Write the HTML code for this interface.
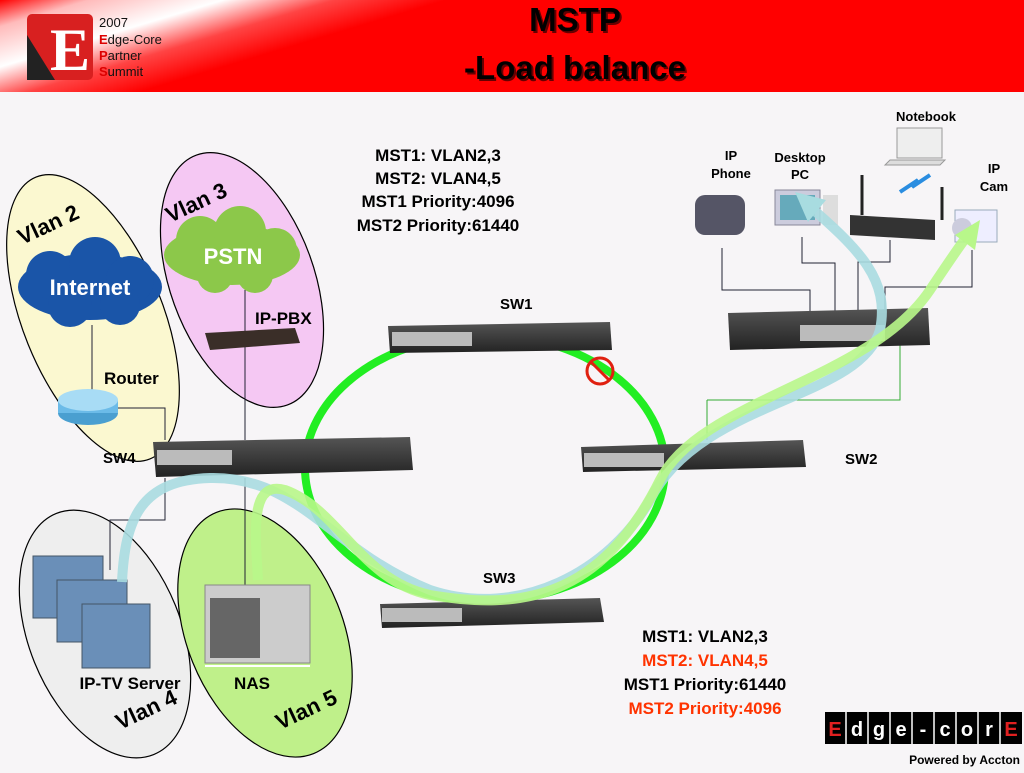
<!DOCTYPE html>
<html><head><meta charset="utf-8"><style>
body{margin:0;width:1024px;height:768px;overflow:hidden;background:#f7f5f7;font-family:"Liberation Sans",sans-serif}
</style></head><body>
<svg width="1024" height="768" viewBox="0 0 1024 768" xmlns="http://www.w3.org/2000/svg" font-family="Liberation Sans, sans-serif">
<defs>
<linearGradient id="hd" x1="0" x2="1" y1="0" y2="0.3">
<stop offset="0" stop-color="#f00"/><stop offset="0.08" stop-color="#fbb"/><stop offset="0.2" stop-color="#fff"/><stop offset="0.3" stop-color="#f44"/><stop offset="0.4" stop-color="#f00"/><stop offset="1" stop-color="#f00"/>
</linearGradient>
<linearGradient id="sw" x1="0" x2="0" y1="0" y2="1"><stop offset="0" stop-color="#555"/><stop offset="1" stop-color="#222"/></linearGradient>
</defs>
<rect width="1024" height="768" fill="#f7f5f7"/>
<rect width="1024" height="92" fill="url(#hd)"/>
<rect x="27" y="14" width="66" height="66" rx="5" fill="#d82020"/>
<path d="M27 35 L55 80 L27 80Z" fill="#222"/>
<text x="50" y="70" font-family="Liberation Serif" font-size="60" font-weight="bold" fill="#fff">E</text>
<g font-size="13" fill="#111"><text x="99" y="27">2007</text><text x="99" y="44"><tspan fill="#d00" font-weight="bold">E</tspan>dge-Core</text><text x="99" y="60"><tspan fill="#d00" font-weight="bold">P</tspan>artner</text><text x="99" y="76"><tspan fill="#d00" font-weight="bold">S</tspan>ummit</text></g>
<g font-size="33" font-weight="bold" text-anchor="middle"><text x="577" y="33" fill="#600">MSTP</text><text x="575" y="31" fill="#000">MSTP</text><text x="577" y="81" fill="#600">-Load balance</text><text x="575" y="79" fill="#000">-Load balance</text></g>

<g stroke="#000" stroke-width="1.2">
<ellipse cx="93" cy="318" rx="70" ry="152" transform="rotate(-22 93 318)" fill="#fbf8d0"/>
<ellipse cx="242" cy="280" rx="72" ry="133" transform="rotate(-20 242 280)" fill="#f5c8f3"/>
<ellipse cx="105" cy="634" rx="76" ry="130" transform="rotate(-22 105 634)" fill="#eeeeee"/>
<ellipse cx="265" cy="633" rx="78" ry="130" transform="rotate(-22 265 633)" fill="#bff08a"/>
</g>
<g font-size="22" font-weight="bold" fill="#000">
<text transform="translate(22 245) rotate(-25)">Vlan 2</text>
<text transform="translate(170 223) rotate(-25)">Vlan 3</text>
<text transform="translate(120 730) rotate(-25)">Vlan 4</text>
<text transform="translate(280 730) rotate(-25)">Vlan 5</text>
</g>
<!-- clouds -->
<g fill="#1a55a8"><ellipse cx="90" cy="287" rx="72" ry="33"/><circle cx="50" cy="275" r="24"/><circle cx="95" cy="263" r="26"/><circle cx="130" cy="280" r="24"/><circle cx="70" cy="305" r="22"/><circle cx="120" cy="305" r="20"/></g>
<text x="90" y="295" font-size="22" font-weight="bold" fill="#fff" text-anchor="middle">Internet</text>
<g fill="#8cc84a"><ellipse cx="232" cy="255" rx="68" ry="30"/><circle cx="200" cy="240" r="24"/><circle cx="240" cy="232" r="26"/><circle cx="275" cy="250" r="22"/><circle cx="215" cy="275" r="18"/><circle cx="255" cy="275" r="18"/></g>
<text x="233" y="264" font-size="22" font-weight="bold" fill="#fff" text-anchor="middle">PSTN</text>

<!-- lines -->
<g stroke="#223" stroke-width="1" fill="none">
<path d="M92 325 V400"/><path d="M110 408 H165 V440"/><path d="M245 290 V440"/><path d="M245 478 V590"/>
<path d="M165 478 V520 H110 V570"/>
<path d="M722 248 V290 H810 V330"/><path d="M802 237 V263 H835 V330"/><path d="M890 240 V262 H858 V330"/><path d="M972 250 V287 H885 V330"/>
<path d="M707 400 H900 V345" stroke="#3a3"/><path d="M707 400 V440" stroke="#3a3"/>
</g>
<!-- ring -->
<ellipse cx="485" cy="468" rx="180" ry="133" fill="none" stroke="#22ee22" stroke-width="8"/>

<!-- router -->
<ellipse cx="88" cy="413" rx="30" ry="12" fill="#4a9fd0"/><rect x="58" y="400" width="60" height="13" fill="#6bbbe8"/><ellipse cx="88" cy="400" rx="30" ry="11" fill="#a8dcf5"/>
<text x="104" y="384" font-size="17" font-weight="bold">Router</text>
<!-- pbx -->
<path d="M205 333 L295 328 L300 343 L210 350Z" fill="#3a2e28"/>
<text x="255" y="324" font-size="17" font-weight="bold">IP-PBX</text>

<!-- switches -->
<g>
<path d="M388 326 L610 322 L612 350 L390 353Z" fill="url(#sw)"/><rect x="392" y="332" width="80" height="14" fill="#bbb"/>
<path d="M153 442 L410 437 L413 470 L156 477Z" fill="url(#sw)"/><rect x="157" y="450" width="75" height="15" fill="#bbb"/>
<path d="M581 447 L803 440 L806 467 L583 472Z" fill="url(#sw)"/><rect x="584" y="453" width="80" height="14" fill="#bbb"/>
<path d="M380 604 L600 598 L604 622 L382 628Z" fill="url(#sw)"/><rect x="382" y="608" width="80" height="14" fill="#bbb"/>
<path d="M728 313 L928 308 L930 345 L730 350Z" fill="url(#sw)"/><rect x="800" y="325" width="85" height="16" fill="#bbb"/>
</g>
<g font-size="15" font-weight="bold">
<text x="500" y="309">SW1</text><text x="103" y="463">SW4</text><text x="845" y="464">SW2</text><text x="483" y="583">SW3</text>
</g>
<circle cx="600" cy="371" r="13" fill="none" stroke="#e02010" stroke-width="3"/><line x1="591" y1="362" x2="609" y2="380" stroke="#e02010" stroke-width="3"/>

<!-- servers -->
<g fill="#6a8fb8" stroke="#456" stroke-width="1">
<rect x="33" y="556" width="70" height="62"/><rect x="57" y="580" width="70" height="62"/><rect x="82" y="604" width="68" height="64"/>
</g>
<!-- NAS -->
<rect x="205" y="585" width="105" height="78" fill="#ccc" stroke="#888"/><rect x="210" y="598" width="50" height="60" fill="#666"/>
<line x1="205" y1="666" x2="310" y2="666" stroke="#fff" stroke-width="2"/>

<!-- devices right -->
<rect x="695" y="195" width="50" height="40" rx="10" fill="#556"/>
<rect x="775" y="190" width="45" height="35" fill="#ccd" stroke="#889"/><rect x="780" y="195" width="35" height="25" fill="#6ab"/><rect x="823" y="195" width="15" height="30" fill="#ddd"/>
<path d="M850 215 L935 220 L935 240 L850 235Z" fill="#333"/><line x1="862" y1="215" x2="862" y2="175" stroke="#222" stroke-width="3"/><line x1="942" y1="220" x2="942" y2="187" stroke="#222" stroke-width="3"/>
<rect x="897" y="128" width="45" height="30" fill="#eee" stroke="#999"/><path d="M890 160 L945 160 L940 165 L885 165Z" fill="#ddd" stroke="#999"/>
<path d="M900 192 L918 180 L912 187 L930 175" stroke="#2a8de0" stroke-width="4" fill="none"/>
<rect x="955" y="210" width="42" height="32" fill="#eef" stroke="#9ab"/><circle cx="962" cy="228" r="10" fill="#ccd"/>

<!-- flows -->
<path d="M122 582 C125 520 140 480 210 478 C300 476 330 550 430 590 C520 620 610 570 650 500 C700 400 860 400 880 330 C890 280 860 250 808 205" fill="none" stroke="#a8dce0" stroke-width="10" opacity="0.9"/>
<path d="M795 192 L826 200 L808 222Z" fill="#a8dce0"/>
<path d="M258 580 C255 530 250 480 285 490 C340 510 360 580 430 595 C520 610 600 600 660 480 C700 400 870 380 930 290 C950 260 960 245 968 235" fill="none" stroke="#b8f78a" stroke-width="10" opacity="0.9"/>
<path d="M980 220 L975 250 L955 235Z" fill="#b8f78a"/>

<g font-size="13" font-weight="bold" text-anchor="middle">
<text x="926" y="121">Notebook</text><text x="731" y="160">IP</text><text x="731" y="178">Phone</text><text x="800" y="162">Desktop</text><text x="800" y="179">PC</text><text x="994" y="173">IP</text><text x="994" y="191">Cam</text>
</g>
<g font-size="17" font-weight="bold" text-anchor="middle">
<text x="438" y="161">MST1: VLAN2,3</text><text x="438" y="184">MST2: VLAN4,5</text><text x="438" y="207">MST1 Priority:4096</text><text x="438" y="231">MST2 Priority:61440</text>
<text x="705" y="642">MST1: VLAN2,3</text><text x="705" y="666" fill="#ff3300">MST2: VLAN4,5</text><text x="705" y="690">MST1 Priority:61440</text><text x="705" y="714" fill="#ff3300">MST2 Priority:4096</text>
<text x="130" y="689">IP-TV Server</text><text x="252" y="689">NAS</text>
</g>
<!-- logo -->
<g font-size="20" font-weight="bold" text-anchor="middle" fill="#fff">
<rect x="825" y="712" width="197" height="32" fill="#000"/>
<g stroke="#fff" stroke-width="1.5"><line x1="846" y1="712" x2="846" y2="744"/><line x1="868" y1="712" x2="868" y2="744"/><line x1="890" y1="712" x2="890" y2="744"/><line x1="912" y1="712" x2="912" y2="744"/><line x1="934" y1="712" x2="934" y2="744"/><line x1="956" y1="712" x2="956" y2="744"/><line x1="978" y1="712" x2="978" y2="744"/><line x1="1000" y1="712" x2="1000" y2="744"/></g>
<text x="835" y="736" fill="#e02020">E</text><text x="857" y="736">d</text><text x="879" y="736">g</text><text x="901" y="736">e</text><text x="923" y="736">-</text><text x="945" y="736">c</text><text x="967" y="736">o</text><text x="989" y="736">r</text><text x="1011" y="736" fill="#e02020">E</text>
</g>
<text x="1020" y="764" font-size="12" font-weight="bold" text-anchor="end">Powered by Accton</text>
</svg>
</body></html>
